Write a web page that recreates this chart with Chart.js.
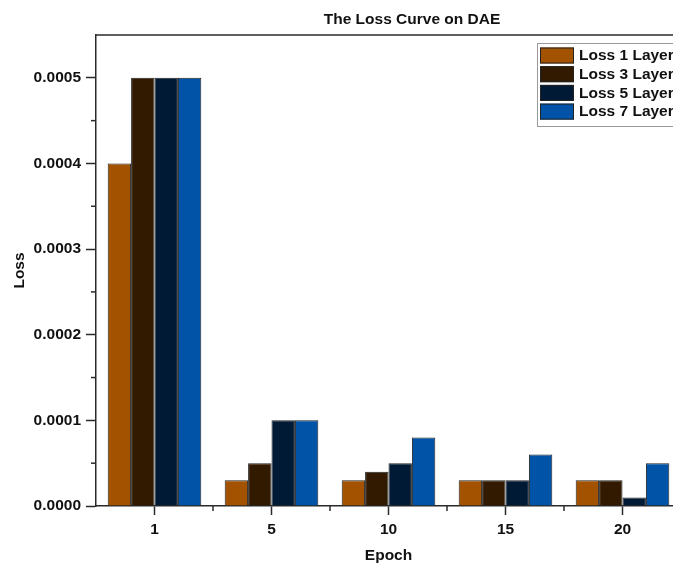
<!DOCTYPE html>
<html>
<head>
<meta charset="utf-8">
<title>The Loss Curve on DAE</title>
<script src="https://cdn.jsdelivr.net/npm/chart.js@4.4.1/dist/chart.umd.min.js"></script>
<style>
  html, body { margin: 0; padding: 0; background: #fff; overflow: hidden; }
  #wrap { position: relative; width: 700px; height: 570px; }
</style>
</head>
<body>
<div id="wrap"><canvas id="lossChart" width="700" height="570"></canvas></div>
<script>
// data
const epochs = ["1", "5", "10", "15", "20"];
const loss1Layer = [0.0004, 0.00003, 0.00003, 0.00003, 0.00003];
const loss3Layer = [0.0005, 0.00005, 0.00004, 0.00003, 0.00003];
const loss5Layer = [0.0005, 0.0001, 0.00005, 0.00003, 0.00001];
const loss7Layer = [0.0005, 0.0001, 0.00008, 0.00006, 0.00005];
const seriesNames = ["Loss 1 Layer", "Loss 3 Layer", "Loss 5 Layer", "Loss 7 Layer"];
const seriesColors = ["#A35200", "#321A00", "#001A35", "#0053A6"];
const yMinorTicks = [0.00005, 0.00015, 0.00025, 0.00035, 0.00045];

const axisColor = "#2a2a2a";
const textColor = "#111";
const boldFont = { family: "Liberation Sans, Arial, sans-serif", size: 15.5, weight: "bold" };

// minor ticks, top frame line, title and boxed legend
const extrasPlugin = {
    id: "extras",
    afterDraw(chart) {
        const ctx = chart.ctx;
        const area = chart.chartArea;
        const xs = chart.scales.x;
        const ys = chart.scales.y;
        ctx.save();
        ctx.strokeStyle = axisColor;
        ctx.lineWidth = 1.5;

        // top frame line
        ctx.beginPath();
        ctx.moveTo(area.left, area.top);
        ctx.lineTo(area.right + 5, area.top);
        ctx.stroke();

        // y minor ticks
        yMinorTicks.forEach((v) => {
            const y = ys.getPixelForValue(v);
            ctx.beginPath();
            ctx.moveTo(area.left - 5, y);
            ctx.lineTo(area.left, y);
            ctx.stroke();
        });

        // x minor ticks between categories
        for (let i = 0; i < epochs.length - 1; i++) {
            const x = (xs.getPixelForValue(i) + xs.getPixelForValue(i + 1)) / 2;
            ctx.beginPath();
            ctx.moveTo(x, area.bottom);
            ctx.lineTo(x, area.bottom + 5);
            ctx.stroke();
        }

        // title
        ctx.fillStyle = textColor;
        ctx.font = "bold 15.5px 'Liberation Sans', Arial, sans-serif";
        ctx.textAlign = "center";
        ctx.textBaseline = "alphabetic";
        ctx.fillText("The Loss Curve on DAE", 412, 24);

        // legend box
        const lx = 537, ly = 43, step = 18.7;
        ctx.strokeStyle = "#9a9a9a";
        ctx.lineWidth = 1;
        ctx.strokeRect(lx + 0.5, ly + 0.5, 200, 83);
        chart.data.datasets.forEach((ds, i) => {
            const top = ly + 4.5 + i * step;
            ctx.fillStyle = ds.backgroundColor;
            ctx.fillRect(lx + 3, top, 34, 16);
            ctx.strokeStyle = "#222";
            ctx.strokeRect(lx + 3.5, top + 0.5, 33, 15);
            ctx.fillStyle = textColor;
            ctx.textAlign = "left";
            ctx.textBaseline = "middle";
            ctx.fillText(ds.label, lx + 42, top + 8.5);
        });
        ctx.restore();
    }
};

const seriesData = [loss1Layer, loss3Layer, loss5Layer, loss7Layer];

new Chart(document.getElementById("lossChart"), {
    type: "bar",
    data: {
        labels: epochs,
        datasets: seriesData.map((d, i) => ({
            label: seriesNames[i],
            data: d,
            backgroundColor: seriesColors[i],
            borderColor: "#222",
            borderWidth: 1,
            barPercentage: 1.0,
            categoryPercentage: 0.8,
        })),
    },
    options: {
        responsive: false,
        animation: false,
        layout: { padding: { top: 35, right: 19, left: 0, bottom: 0 } },
        plugins: {
            legend: { display: false },
            title: { display: false },
            tooltip: { enabled: false },
        },
        scales: {
            x: {
                afterFit: (s) => { s.height = 64; },
                grid: { drawOnChartArea: false, offset: false, tickLength: 9, tickWidth: 1.5, tickColor: axisColor },
                border: { color: axisColor, width: 1.5 },
                ticks: { color: textColor, font: boldFont, padding: 5, maxRotation: 0, autoSkip: false },
                title: { display: true, text: "Epoch", color: textColor, font: boldFont, padding: { top: 0, bottom: 5 } },
            },
            y: {
                min: 0,
                max: 0.00055,
                afterFit: (s) => { s.width = 96; },
                grid: { drawOnChartArea: false, tickLength: 10, tickWidth: 1.5, tickColor: axisColor },
                border: { color: axisColor, width: 1.5 },
                ticks: {
                    stepSize: 0.0001,
                    includeBounds: false,
                    color: textColor,
                    font: boldFont,
                    padding: 5,
                    callback: (v) => Number(v).toFixed(4),
                },
                title: { display: true, text: "Loss", color: textColor, font: boldFont, padding: { top: 10, bottom: 0 } },
            },
        },
    },
    plugins: [extrasPlugin],
});
</script>
</body>
</html>
